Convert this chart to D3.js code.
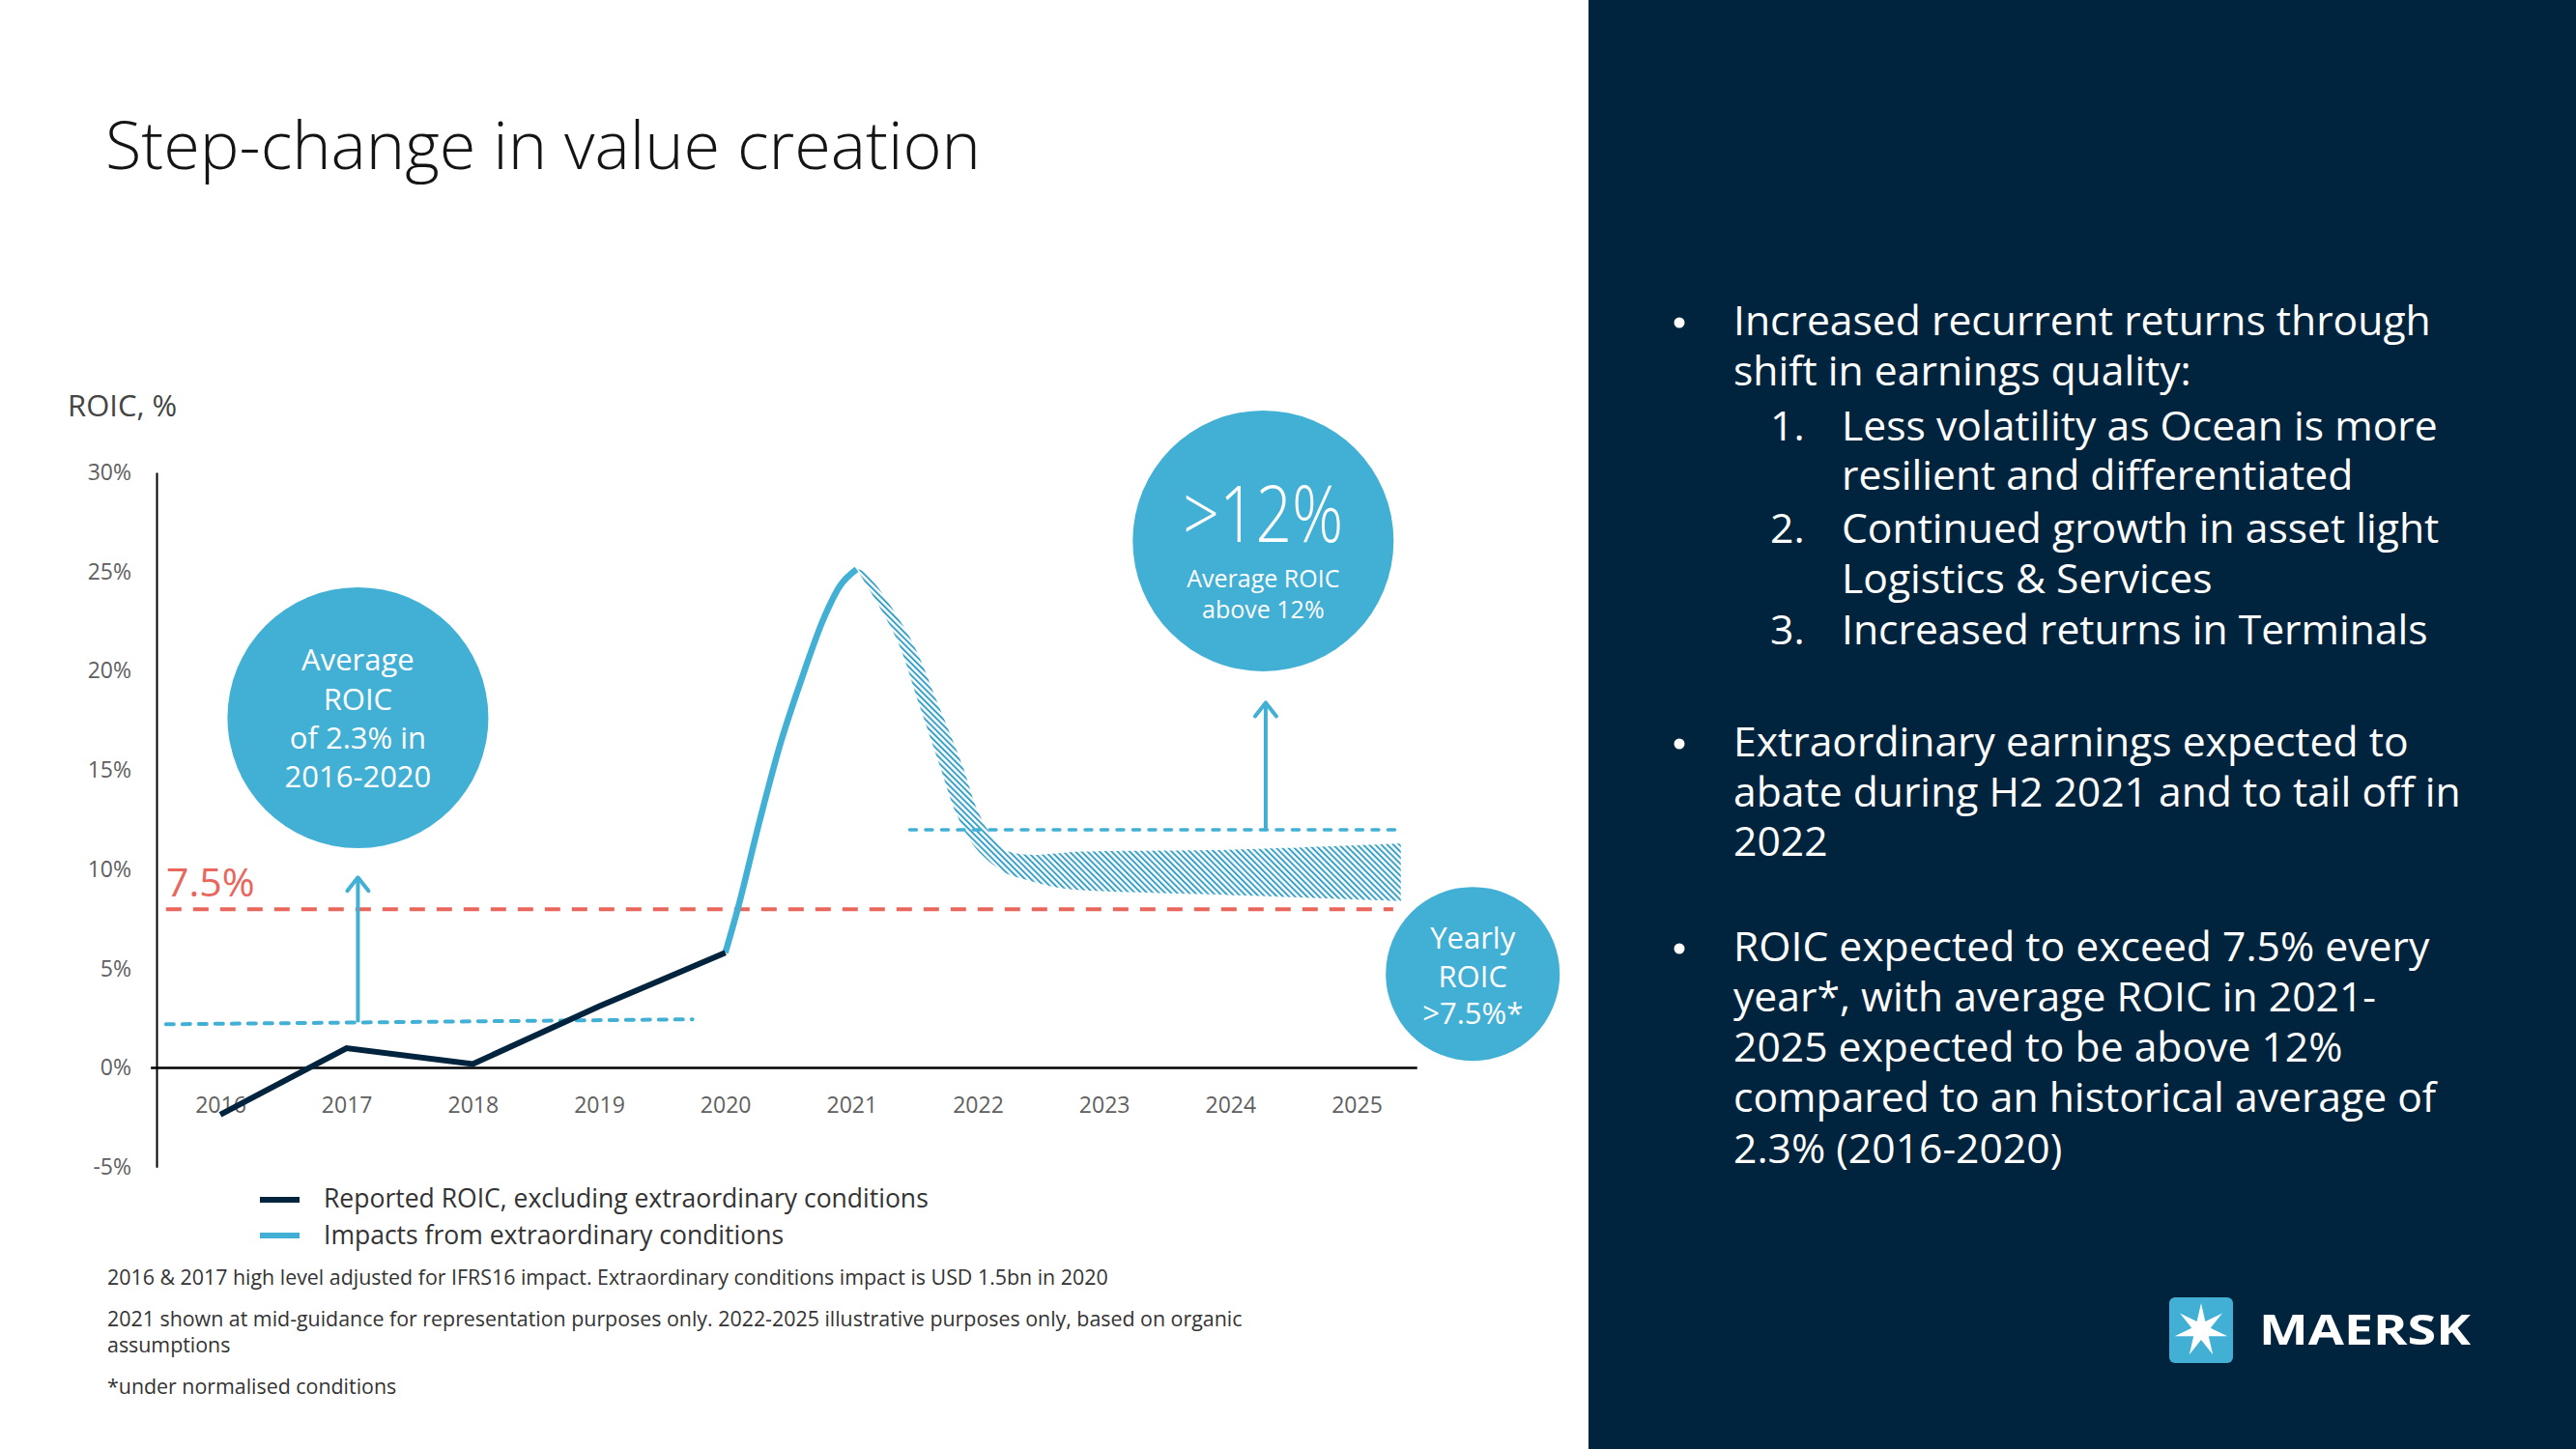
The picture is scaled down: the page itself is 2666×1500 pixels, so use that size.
<!DOCTYPE html>
<html>
<head>
<meta charset="utf-8">
<script src="https://cdn.jsdelivr.net/npm/d3@7"></script>
<style>
html,body{margin:0;padding:0;background:#fff;}
svg{display:block;}
</style>
</head>
<body>
<svg id="chart" width="2666" height="1500"></svg>
<script>
// ---------------- DATA ----------------
const xTickYears = [2016, 2017, 2018, 2019, 2020, 2021, 2022, 2023, 2024, 2025];
const yTickValues = [-5, 0, 5, 10, 15, 20, 25, 30];

// Reported ROIC, excluding extraordinary conditions (navy)
const reportedYears = [2016, 2017, 2018, 2019, 2020];
const reportedROIC = [-2.35, 1.0, 0.2, 3.1, 5.8];

// Impacts from extraordinary conditions (light blue solid)
const extraYears = [2020.0, 2020.1, 2020.27, 2020.43, 2020.61, 2020.78, 2020.91, 2021.04];
const extraROIC = [5.8, 8.05, 12.4, 16.2, 19.7, 22.65, 24.3, 25.12];

// Illustrative hatched band 2021-2025
const bandUpperYears = [2021.04, 2021.1, 2021.46, 2021.68, 2021.88, 2022.01, 2022.19, 2022.37, 2022.83, 2024.05, 2025.35];
const bandUpper = [25.12, 25.0, 21.7, 18.4, 15.2, 12.8, 11.1, 10.75, 10.9, 11.0, 11.3];
const bandLowerYears = [2021.04, 2021.35, 2021.53, 2021.70, 2021.83, 2021.98, 2022.21, 2022.37, 2022.62, 2022.83, 2024.05, 2025.35];
const bandLower = [25.12, 21.7, 18.4, 15.2, 12.8, 11.1, 9.85, 9.5, 9.1, 8.95, 8.7, 8.4];

// Reference lines
const hurdleLabel = "7.5%";
const hurdleYears = [2015.57, 2025.29];
const hurdleValue = [8.0, 8.0];
const histAvgYears = [2015.57, 2019.74];
const histAvgValue = [2.2, 2.45];
const targetYears = [2021.46, 2025.32];
const targetValue = [12.0, 12.0];

// Arrows [year, from, to]
const arrowYears = [2017.09, 2024.28];
const arrowFrom = [2.3, 12.0];
const arrowTo = [9.6, 18.4];

// Bubbles
const bubbleYears = [2017.09, 2024.26, 2025.92];
const bubbleValues = [17.64, 26.55, 4.74];

const legendLabels = ["Reported ROIC, excluding extraordinary conditions", "Impacts from extraordinary conditions"];
const footnotes = [
  "2016 & 2017 high level adjusted for IFRS16 impact. Extraordinary conditions impact is USD 1.5bn in 2020",
  "2021 shown at mid-guidance for representation  purposes only. 2022-2025 illustrative purposes only, based on organic",
  "assumptions",
  "*under normalised conditions"
];
const bullet1 = ["Increased recurrent returns through", "shift in earnings quality:"];
const subItems = [
  {n: "1.", lines: ["Less volatility as Ocean is more", "resilient and differentiated"]},
  {n: "2.", lines: ["Continued growth in asset light", "Logistics & Services"]},
  {n: "3.", lines: ["Increased returns in Terminals"]}
];
const bullet2 = ["Extraordinary earnings expected to", "abate during H2 2021 and to tail off in", "2022"];
const bullet3 = ["ROIC expected to exceed 7.5% every", "year*, with average ROIC in 2021-", "2025 expected to be above 12%", "compared to an historical average of", "2.3% (2016-2020)"];

// ---------------- STYLE ----------------
const NAVY = "#00243D", BLUE = "#42B0D5", RED = "#E8665C", HATCH = "#2F9DC6";
const FONT = "'Open Sans', 'Noto Sans', sans-serif";

const svg = d3.select("#chart");
svg.attr("font-family", FONT);

const x = d3.scaleLinear().domain([2016, 2025]).range([228, 1404]);
const y = d3.scaleLinear().domain([-5, 30]).range([1208.3, 489]);

function fit(sel, target) {
  const w = sel.node().getComputedTextLength();
  const fs = parseFloat(sel.attr("font-size"));
  return fs * target / w;
}

// right panel
svg.append("rect").attr("x", 1644).attr("y", 0).attr("width", 1022).attr("height", 1500).attr("fill", NAVY);

// title
const title = svg.append("text").attr("x", 109).attr("y", 175).attr("font-size", 64).attr("font-weight", 300)
  .attr("fill", "#141414").text("Step-change in value creation");
title.attr("font-size", fit(title, 906));

// y-axis label
svg.append("text").attr("x", 70).attr("y", 431).attr("font-size", 31).attr("fill", "#444").text("ROIC, %");

// defs: hatch
const defs = svg.append("defs");
const pat = defs.append("pattern").attr("id", "hatch").attr("patternUnits", "userSpaceOnUse")
  .attr("width", 4.4).attr("height", 10).attr("patternTransform", "rotate(-45)");
pat.append("line").attr("x1", 1).attr("y1", 0).attr("x2", 1).attr("y2", 10)
  .attr("stroke", HATCH).attr("stroke-width", 1.9);

// y axis
const yAxis = d3.axisLeft(y).tickValues(yTickValues).tickSize(0).tickSizeOuter(0).tickPadding(26)
  .tickFormat(d => d + "%");
const gy = svg.append("g").attr("transform", "translate(162,0)").call(yAxis);
gy.select(".domain").attr("stroke", "#000").attr("stroke-width", 2);
gy.selectAll("text").attr("font-size", 23).attr("fill", "#5f5f5f").attr("font-family", FONT);

// x axis labels
const xAxis = d3.axisBottom(x).tickValues(xTickYears).tickSize(0).tickPadding(30).tickFormat(d3.format("d"));
const gx = svg.append("g").attr("transform", `translate(0,${y(0)})`).call(xAxis);
gx.select(".domain").remove();
gx.selectAll("text").attr("font-size", 23).attr("fill", "#5f5f5f").attr("font-family", FONT);

// x baseline
svg.append("line").attr("x1", x(2015.45)).attr("x2", x(2025.48)).attr("y1", y(0)).attr("y2", y(0))
  .attr("stroke", "#000").attr("stroke-width", 2.5);

// hatched band
const edge = d3.line().x(d => x(d[0])).y(d => y(d[1])).curve(d3.curveCatmullRom.alpha(0.5));
const up = bandUpperYears.map((t, i) => [t, bandUpper[i]]);
const lo = bandLowerYears.map((t, i) => [t, bandLower[i]]).reverse();
const bandPath = edge(up) + "L" + edge(lo).slice(1) + "Z";
svg.append("path").attr("d", bandPath).attr("fill", "url(#hatch)");

// hurdle line
const seg = d3.line().x(d => x(d[0])).y(d => y(d[1]));
svg.append("path").attr("d", seg(hurdleYears.map((t, i) => [t, hurdleValue[i]])))
  .attr("stroke", RED).attr("stroke-width", 4).attr("fill", "none").attr("stroke-dasharray", "16 12");
svg.append("text").attr("x", 172).attr("y", 928).attr("font-size", 41).attr("fill", RED).text(hurdleLabel);

// historical avg dashed
svg.append("path").attr("d", seg(histAvgYears.map((t, i) => [t, histAvgValue[i]])))
  .attr("stroke", BLUE).attr("stroke-width", 4).attr("fill", "none").attr("stroke-linecap", "round")
  .attr("stroke-dasharray", "8 9");
// target dashed
svg.append("path").attr("d", seg(targetYears.map((t, i) => [t, targetValue[i]])))
  .attr("stroke", BLUE).attr("stroke-width", 3.5).attr("fill", "none").attr("stroke-linecap", "round")
  .attr("stroke-dasharray", "7 9.5");

// arrows
arrowYears.forEach((t, i) => {
  const ax = x(t), y0 = y(arrowFrom[i]), y1 = y(arrowTo[i]);
  svg.append("line").attr("x1", ax).attr("x2", ax).attr("y1", y0).attr("y2", y1 + 1)
    .attr("stroke", BLUE).attr("stroke-width", 4);
  svg.append("path").attr("d", `M${ax - 11},${y1 + 14}L${ax},${y1}L${ax + 11},${y1 + 14}`)
    .attr("stroke", BLUE).attr("stroke-width", 4).attr("fill", "none").attr("stroke-linecap", "round")
    .attr("stroke-linejoin", "round");
});

// extraordinary blue line
const smooth = d3.line().x(d => x(d[0])).y(d => y(d[1])).curve(d3.curveMonotoneX);
svg.append("path").attr("d", smooth(extraYears.map((t, i) => [t, extraROIC[i]])))
  .attr("stroke", BLUE).attr("stroke-width", 6.5).attr("fill", "none");

// reported navy line
svg.append("path").attr("d", seg(reportedYears.map((t, i) => [t, reportedROIC[i]])))
  .attr("stroke", NAVY).attr("stroke-width", 6).attr("fill", "none").attr("stroke-linejoin", "miter");

// bubbles
const bubbleR = [135, 135, 90];
bubbleYears.forEach((t, i) => {
  svg.append("circle").attr("cx", x(t)).attr("cy", y(bubbleValues[i])).attr("r", bubbleR[i]).attr("fill", BLUE);
});
function centeredLines(cx, baselines, lines, size, weight) {
  lines.forEach((s, i) => {
    svg.append("text").attr("x", cx).attr("y", baselines[i]).attr("text-anchor", "middle")
      .attr("font-size", size).attr("font-weight", weight || 400).attr("fill", "#fff").text(s);
  });
}
centeredLines(x(bubbleYears[0]), [694, 735, 775, 815], ["Average", "ROIC", "of 2.3% in", "2016-2020"], 31);
const big = svg.append("text").attr("x", x(bubbleYears[1])).attr("y", 561).attr("text-anchor", "middle")
  .attr("font-size", 82).attr("font-weight", 300).attr("fill", "#fff").text(">12%");
big.attr("textLength", 166).attr("lengthAdjust", "spacingAndGlyphs");
centeredLines(x(bubbleYears[1]), [608, 640], ["Average ROIC", "above 12%"], 25);
centeredLines(x(bubbleYears[2]), [982, 1022, 1060], ["Yearly", "ROIC", ">7.5%*"], 31);

// legend
const legendColors = [NAVY, BLUE];
const legendY = [1242, 1279];
legendLabels.forEach((s, i) => {
  svg.append("rect").attr("x", 269).attr("y", legendY[i] - 3).attr("width", 41).attr("height", 6).attr("fill", legendColors[i]);
});
const lt0 = svg.append("text").attr("x", 335).attr("y", 1250).attr("font-size", 25).attr("fill", "#333").text(legendLabels[0]);
const lfs = fit(lt0, 626);
lt0.attr("font-size", lfs);
svg.append("text").attr("x", 335).attr("y", 1288).attr("font-size", lfs).attr("fill", "#333").text(legendLabels[1]);

// footnotes
const fnY = [1330, 1373, 1400, 1443];
const fn0 = svg.append("text").attr("x", 111).attr("y", fnY[0]).attr("font-size", 20).attr("fill", "#333").text(footnotes[0]);
const ffs = fit(fn0, 1036);
fn0.attr("font-size", ffs);
footnotes.slice(1).forEach((s, i) => {
  svg.append("text").attr("x", 111).attr("y", fnY[i + 1]).attr("font-size", ffs).attr("fill", "#333").text(s);
});

// right panel text
const probe = svg.append("text").attr("font-size", 40).attr("fill", "#fff").text(bullet2[1]);
const rfs = fit(probe, 753);
probe.remove();
const BX = 1733, TX = 1794, NX = 1832, SX = 1906;
function rline(xp, yp, s) {
  svg.append("text").attr("x", xp).attr("y", yp).attr("font-size", rfs).attr("fill", "#fff").text(s);
}
function bullet(yp) {
  svg.append("circle").attr("cx", BX + 5).attr("cy", yp - 13).attr("r", 5.5).attr("fill", "#fff");
}
const b1Y = [347, 399];
bullet(b1Y[0]);
bullet1.forEach((s, i) => rline(TX, b1Y[i], s));
const subY = [[456, 507], [562, 614], [667]];
subItems.forEach((it, k) => {
  rline(NX, subY[k][0], it.n);
  it.lines.forEach((s, i) => rline(SX, subY[k][i], s));
});
const b2Y = [783, 835, 886];
bullet(b2Y[0]);
bullet2.forEach((s, i) => rline(TX, b2Y[i], s));
const b3Y = [995, 1047, 1099, 1151, 1204];
bullet(b3Y[0]);
bullet3.forEach((s, i) => rline(TX, b3Y[i], s));

// logo
svg.append("rect").attr("x", 2245).attr("y", 1343).attr("width", 66).attr("height", 68).attr("rx", 6).attr("fill", BLUE);
const cx = 2278, cy = 1377, R = 28, r = 10;
const starPts = [];
for (let k = 0; k < 14; k++) {
  const a = -Math.PI / 2 + k * Math.PI / 7;
  const rad = k % 2 === 0 ? R : r;
  starPts.push([cx + rad * Math.cos(a), cy + rad * Math.sin(a)]);
}
svg.append("path").attr("d", d3.line()(starPts) + "Z").attr("fill", "#fff");
const logoText = svg.append("text").attr("x", 2338).attr("y", 1392).attr("font-size", 43).attr("font-weight", 700)
  .attr("fill", "#fff").text("MAERSK");
logoText.attr("textLength", 219).attr("lengthAdjust", "spacingAndGlyphs");
</script>
</body>
</html>
